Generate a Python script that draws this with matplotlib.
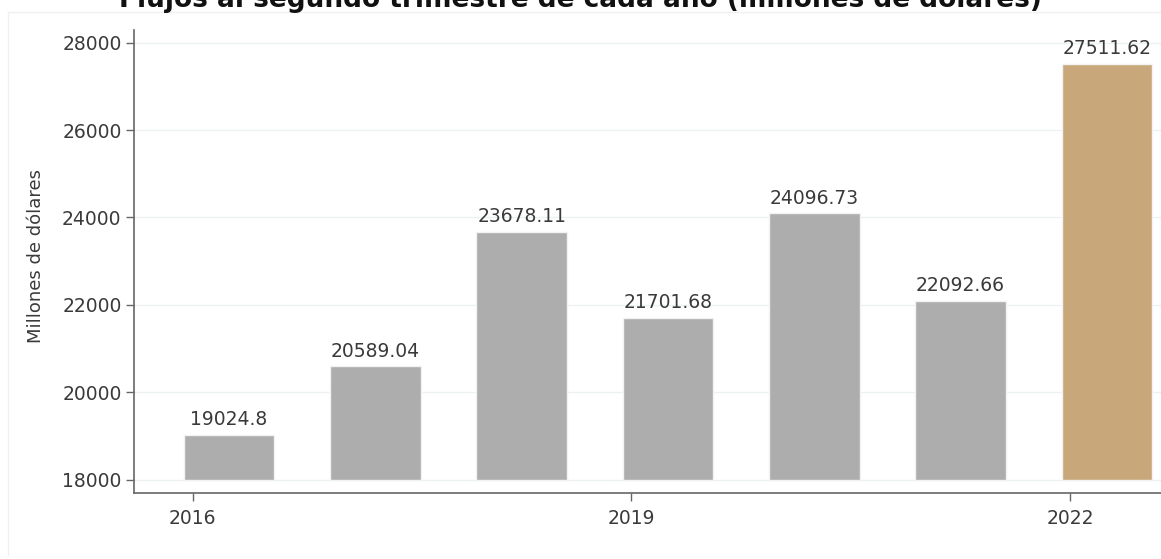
import numpy as np
import matplotlib.pyplot as plt
from matplotlib.lines import Line2D

# Datos
anios = [2016, 2017, 2018, 2019, 2020, 2021, 2022]
flujos = [19024.8, 20589.04, 23678.11, 21701.68, 24096.73, 22092.66, 27511.62]
etiquetas = ["19024.8", "20589.04", "23678.11", "21701.68", "24096.73", "22092.66", "27511.62"]
colores = ["#adadad"] * 6 + ["#c8a87a"]
ticks_x = [2016, 2019, 2022]
ticks_y = [18000, 20000, 22000, 24000, 26000, 28000]

plt.rcParams['font.family'] = ['DejaVu Sans']
texto = "#3a3a3a"
W, H = 1161, 559

fig = plt.figure(figsize=(W / 100, H / 100), dpi=100)
ax = fig.add_axes([134 / W, 1 - 492.7 / H, 1 - 134 / W, (492.7 - 30) / H])

base = 18000
x = np.array(anios) + 0.25  # barras al segundo trimestre
alturas = np.array(flujos) - base
ax.bar(x, alturas, bottom=base, width=0.62, color=colores,
       edgecolor="#f2f2f2", linewidth=1, zorder=3)

for xi, v, t in zip(x, flujos, etiquetas):
    ax.annotate(t, (xi, v), xytext=(0, 4), textcoords="offset points",
                ha="center", va="bottom", fontsize=13.5, color=texto, zorder=4)

ax.set_xlim(2015.6, 2022.62)
ax.set_ylim(17700, 28290)
ax.set_xticks(ticks_x)
ax.set_xticklabels([str(t) for t in ticks_x])
ax.set_yticks(ticks_y)
ax.yaxis.grid(True, color="#ecf1f1", linewidth=1, zorder=0)
ax.set_axisbelow(True)

for s in ["top", "right"]:
    ax.spines[s].set_visible(False)
for s in ["left", "bottom"]:
    ax.spines[s].set_color("#666666")
    ax.spines[s].set_linewidth(1.2)

ax.tick_params(axis="both", colors="#666666", labelcolor=texto, labelsize=13.5,
               length=6, width=1)
ax.tick_params(axis="x", pad=6)
ax.tick_params(axis="y", pad=3)
ax.set_ylabel("Millones de dólares", fontsize=13, color=texto)
ax.yaxis.set_label_coords(-(134 - 45) / (W - 134), 1 - (256 - 30) / (492.7 - 30))

# el título queda recortado arriba, como en la referencia
fig.text(0.5, 1 - 7 / H, "Flujos al segundo trimestre de cada año (millones de dólares)",
         ha="center", va="baseline", fontsize=19, fontweight="bold", color="#111111")

# marco tenue del panel
fig.add_artist(Line2D([8 / W, 8 / W], [1 - 555 / H, 1 - 12 / H], color="#f0f0f0",
                      linewidth=1, transform=fig.transFigure))
fig.add_artist(Line2D([8 / W, 1], [1 - 12 / H, 1 - 12 / H], color="#f0f0f0",
                      linewidth=1, transform=fig.transFigure))

fig.savefig("out.png", dpi=100)
